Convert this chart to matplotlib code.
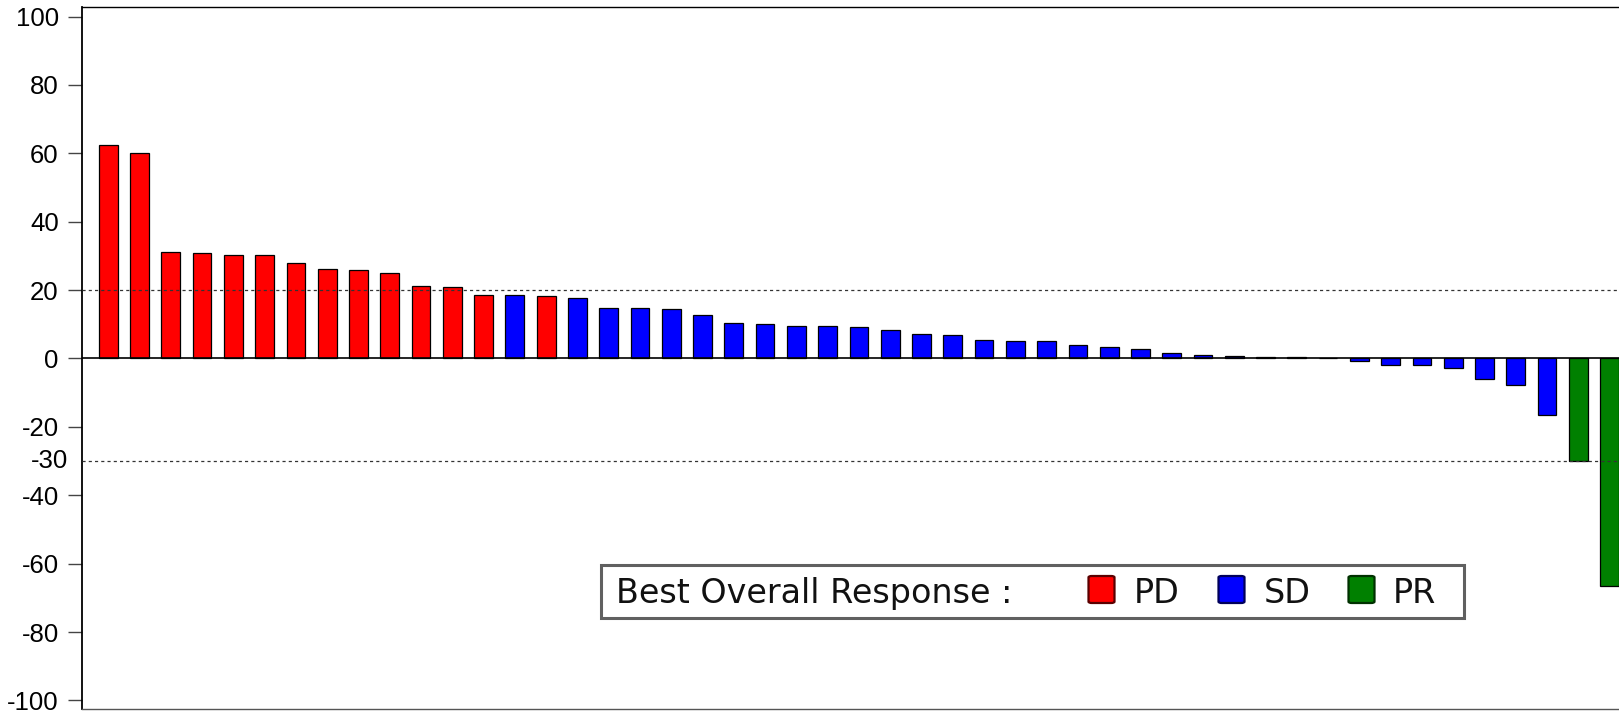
import numpy as np
import matplotlib
matplotlib.use("Agg")
import matplotlib.pyplot as plt
from matplotlib.patches import Rectangle, FancyBboxPatch

plt.rcParams['font.family'] = ['Liberation Sans', 'DejaVu Sans']

# best percent change from baseline, one bar per patient (sorted)
change = [62.3, 60.2, 31.2, 30.8, 30.3, 30.3, 27.9, 26.1, 25.8, 25.1,
          21.2, 20.8, 18.5, 18.5, 18.4, 17.7, 14.8, 14.7, 14.6, 12.8,
          10.4, 10.2, 9.6, 9.5, 9.1, 8.3, 7.1, 7.0, 5.5, 5.2,
          5.0, 4.0, 3.5, 2.7, 1.5, 1.1, 0.8, 0.5, 0.3, 0.2,
          -0.8, -1.8, -2.0, -2.8, -5.9, -7.8, -16.4, -30.0, -66.4]
response = (['PD'] * 13 + ['SD'] + ['PD'] + ['SD'] * 32 + ['PR'] * 2)
yticks = [100, 80, 60, 40, 20, 0, -20, -40, -60, -80, -100]
ref_lines = [20, -30]

COLORS = {'PD': '#ff0000', 'SD': '#0000ff', 'PR': '#008000'}
EDGES = {'PD': '#5a0000', 'SD': '#00005a', 'PR': '#003000'}
LEG_ORDER = ['PD', 'SD', 'PR']

W, H = 1619, 711
fig = plt.figure(figsize=(W / 100, H / 100), dpi=100)
fig.patch.set_facecolor('white')
ax = fig.add_axes([82.3 / W, (H - 709.3) / H, 1 - 82.3 / W, (709.3 - 7.3) / H])

x = np.arange(len(change))
ax.bar(x, change, width=0.6, color=[COLORS[r] for r in response],
       edgecolor='black', linewidth=0.9, zorder=3)
ax.axhline(0, color='black', lw=1.2, zorder=4)
for v in ref_lines:
    ax.axhline(v, color='#333333', lw=0.9, ls=(0, (2.5, 2.5)), zorder=5)

# -30 label has no tick, sits a bit closer to the axis
ax.annotate('-30', xy=(0, -30), xycoords=('axes fraction', 'data'),
            xytext=(-10, 0), textcoords='offset points',
            ha='right', va='center', fontsize=18.5)

ax.set_xlim(-0.83, 48.3)
ax.set_ylim(-102.6, 102.7)
ax.set_yticks(yticks)
ax.set_yticklabels([str(t) for t in yticks])
ax.set_xticks([])
ax.tick_params(axis='y', direction='out', length=10, width=1.0,
               color='#444444', labelsize=18.5, pad=7)
ax.spines['right'].set_visible(False)
ax.spines['left'].set_linewidth(1.3)
ax.spines['top'].set_linewidth(1.0)
ax.spines['bottom'].set_linewidth(1.0)
ax.spines['bottom'].set_color('#555555')


# legend box, drawn in figure pixels (origin top-left)
def fx(px):
    return px / W


def fy(py):
    return 1 - py / H


box = Rectangle((fx(601), fy(618)), fx(1464) - fx(601), fy(564.5) - fy(618),
                transform=fig.transFigure, facecolor='white',
                edgecolor='#606060', linewidth=2.2, zorder=10)
fig.patches.append(box)
fig.text(fx(616), fy(593.5), 'Best Overall Response :', ha='left',
         va='center', fontsize=24, family='DejaVu Sans', color='#111111',
         zorder=12)

sq_left = [1088.5, 1218.5, 1348.5]
txt_left = [1134, 1264, 1393]
for key, sx, tx in zip(LEG_ORDER, sq_left, txt_left):
    sq = FancyBboxPatch((fx(sx), fy(603)), fx(26), fy(576) - fy(603),
                        boxstyle='round,pad=0,rounding_size=0.002',
                        transform=fig.transFigure, facecolor=COLORS[key],
                        edgecolor=EDGES[key], linewidth=1.6, zorder=11)
    fig.patches.append(sq)
    fig.text(fx(tx), fy(593.5), key, ha='left', va='center', fontsize=24,
             family='DejaVu Sans', color='#111111', zorder=12)

fig.savefig('out.png', dpi=100, facecolor='white')
